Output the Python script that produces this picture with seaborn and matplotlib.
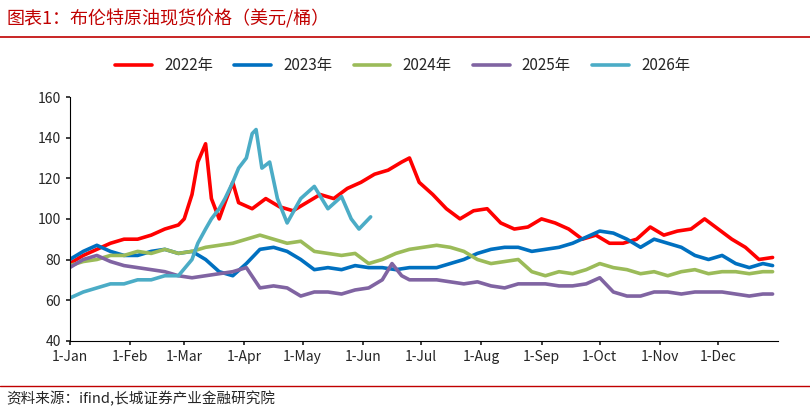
import matplotlib
matplotlib.use("Agg")
import matplotlib.pyplot as plt
import seaborn as sns
import pandas as pd

sns.set_theme(style="white")
plt.rcParams['font.family'] = ['Noto Sans CJK SC', 'DejaVu Sans']

days_2022 = [1,8,15,22,29,36,43,50,57,60,64,67,71,74,78,81,85,88,95,102,109,116,123,130,137,144,151,158,165,172,176,181,188,195,202,209,216,223,230,237,244,251,258,265,272,279,286,293,300,307,314,321,328,335,342,349,356,363]
vals_2022 = [78,82,85,88,90,90,92,95,97,100,112,128,137,110,100,108,118,108,105,110,106,104,108,112,110,115,118,122,124,128,130,118,112,105,100,104,105,98,95,96,100,98,95,90,92,88,88,90,96,92,94,95,100,95,90,86,80,81]
days_2023 = [1,8,15,22,29,36,43,50,57,64,71,78,85,92,99,106,113,120,127,134,141,148,155,162,169,176,183,190,197,204,211,218,225,232,239,246,253,260,267,274,281,288,295,302,309,316,323,330,337,344,351,358,363]
vals_2023 = [80,84,87,84,82,82,84,85,83,84,80,74,72,78,85,86,84,80,75,76,75,77,76,76,75,76,76,76,78,80,83,85,86,86,84,85,86,88,91,94,93,90,86,90,88,86,82,80,82,78,76,78,77]
days_2024 = [1,8,15,22,29,36,43,50,57,64,71,78,85,92,99,106,113,120,127,134,141,148,155,162,169,176,183,190,197,204,211,218,225,232,239,246,253,260,267,274,281,288,295,302,309,316,323,330,337,344,351,358,363]
vals_2024 = [77,79,80,82,82,84,83,85,83,84,86,87,88,90,92,90,88,89,84,83,82,83,78,80,83,85,86,87,86,84,80,78,79,80,74,72,74,73,75,78,76,75,73,74,72,74,75,73,74,74,73,74,74]
days_2025 = [1,8,15,22,29,36,43,50,57,64,71,78,85,92,99,106,113,120,127,134,141,148,155,162,167,172,176,183,190,197,204,211,218,225,232,239,246,253,260,267,274,281,288,295,302,309,316,323,330,337,344,351,358,363]
vals_2025 = [76,80,82,79,77,76,75,74,72,71,72,73,74,76,66,67,66,62,64,64,63,65,66,70,78,72,70,70,70,69,68,69,67,66,68,68,68,67,67,68,71,64,62,62,64,64,63,64,64,64,63,62,63,63]
days_2026 = [1,8,15,22,29,36,43,50,57,64,67,71,74,78,81,85,88,92,95,97,100,104,108,113,120,127,134,141,146,150,153,156]
vals_2026 = [61,64,66,68,68,70,70,72,72,80,88,95,100,105,110,118,125,130,142,144,125,128,110,98,110,116,105,111,100,95,98,101]

series = {"2022年": (days_2022, vals_2022, "#ff0000"),
          "2023年": (days_2023, vals_2023, "#0070c0"),
          "2024年": (days_2024, vals_2024, "#9bbb59"),
          "2025年": (days_2025, vals_2025, "#8064a2"),
          "2026年": (days_2026, vals_2026, "#4bacc6")}
month_ticks = [1,32,60,91,121,152,182,213,244,274,305,335]
month_labels = ["1-Jan","1-Feb","1-Mar","1-Apr","1-May","1-Jun","1-Jul","1-Aug","1-Sep","1-Oct","1-Nov","1-Dec"]

rows = []
for k, (d, v, c) in series.items():
    for a, b in zip(d, v):
        rows.append((k, a, b))
df = pd.DataFrame(rows, columns=["year", "day", "price"])

fig = plt.figure(figsize=(8.1, 4.13), dpi=100)
ax = fig.add_axes([0.086, 0.175, 0.875, 0.59])
sns.lineplot(data=df, x="day", y="price", hue="year",
             palette={k: v[2] for k, v in series.items()}, linewidth=2.6, ax=ax)
ax.set_xlim(1, 366)
ax.set_ylim(40, 160)
ax.set_yticks(range(40, 161, 20))
ax.set_xticks(month_ticks)
ax.set_xticklabels(month_labels)
ax.tick_params(labelsize=10, direction="out", length=3, bottom=True, left=True)
ax.set_xlabel(""); ax.set_ylabel("")
for s in ["top", "right"]:
    ax.spines[s].set_visible(False)
for s in ["left", "bottom"]:
    ax.spines[s].set_color("black"); ax.spines[s].set_linewidth(0.8)
ax.legend(loc="upper center", bbox_to_anchor=(0.47, 1.22), ncol=5, frameon=False,
          fontsize=11, handlelength=2.4, columnspacing=1.4)

fig.text(0.008, 0.955, "图表1：布伦特原油现货价格（美元/桶）", color="#c00000",
         fontsize=13, style="italic", va="center")
fig.add_artist(plt.Line2D([0, 1], [0.91, 0.91], color="#c00000", lw=1.2, transform=fig.transFigure))
fig.add_artist(plt.Line2D([0, 1], [0.065, 0.065], color="#c00000", lw=1.0, transform=fig.transFigure))
fig.text(0.008, 0.035, "资料来源：ifind,长城证券产业金融研究院", fontsize=10.5, style="italic", va="center")
fig.savefig("out.png", dpi=100)
